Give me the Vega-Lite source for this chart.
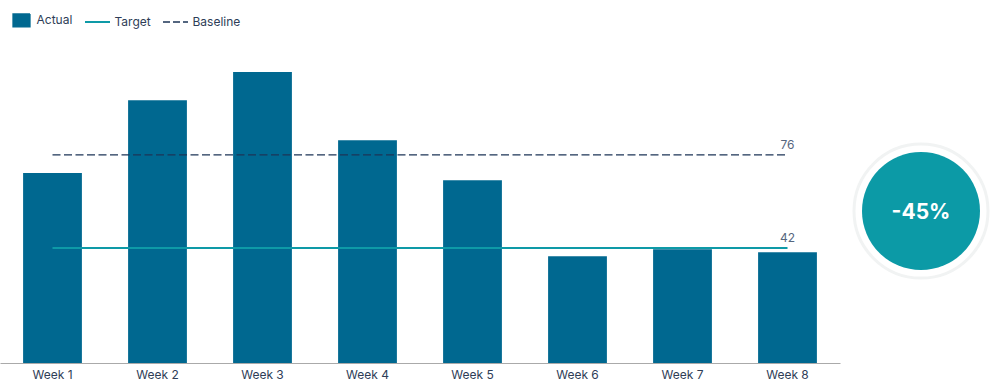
{
  "$schema": "https://vega.github.io/schema/vega-lite/v6.json",
  "padding": {"left": 0, "top": 14, "right": 0, "bottom": 5},
  "spacing": 0,
  "background": "#ffffff",
  "config": {
    "view": {"stroke": null},
    "font": "Inter",
    "axis": {"labelFont": "Inter"},
    "legend": {"labelFont": "Inter"}
  },
  "datasets": {
    "weeks": [
      {"week": "Week 1", "actual": 69.4, "series": "Actual"},
      {"week": "Week 2", "actual": 96.0, "series": "Actual"},
      {"week": "Week 3", "actual": 106.3, "series": "Actual"},
      {"week": "Week 4", "actual": 81.4, "series": "Actual"},
      {"week": "Week 5", "actual": 66.8, "series": "Actual"},
      {"week": "Week 6", "actual": 39.0, "series": "Actual"},
      {"week": "Week 7", "actual": 41.6, "series": "Actual"},
      {"week": "Week 8", "actual": 40.5, "series": "Actual"}
    ],
    "refs": [
      {"series": "Target", "value": 42, "start": "Week 1", "end": "Week 8"},
      {"series": "Baseline", "value": 76, "start": "Week 1", "end": "Week 8"}
    ],
    "badge": [
      {"x": 0.5, "y": 55.5, "label": "-45%"}
    ]
  },
  "hconcat": [
    {
      "width": 840,
      "height": 323,
      "layer": [
        {
          "data": {"name": "weeks"},
          "mark": {"type": "bar"},
          "encoding": {
            "x": {
              "field": "week",
              "type": "nominal",
              "sort": null,
              "scale": {
                "domain": ["Week 1", "Week 2", "Week 3", "Week 4", "Week 5", "Week 6", "Week 7", "Week 8"],
                "paddingInner": 0.44,
                "paddingOuter": 0.22
              },
              "axis": {
                "title": null,
                "labelAngle": 0,
                "ticks": false,
                "labelPadding": 6,
                "labelFontSize": 12,
                "labelColor": "#2e3d57",
                "domainColor": "#aaaaaa",
                "domainWidth": 1,
                "grid": false
              }
            },
            "y": {
              "field": "actual",
              "type": "quantitative",
              "scale": {"domain": [0, 118], "nice": false, "zero": true},
              "axis": null
            },
            "color": {
              "field": "series",
              "type": "nominal",
              "scale": {
                "domain": ["Actual", "Target", "Baseline"],
                "range": ["#006890", "#0e9aa7", "#1d3557"]
              },
              "legend": {
                "title": null,
                "orient": "none",
                "legendX": 13.5,
                "legendY": -26,
                "direction": "horizontal",
                "labelFontSize": 12,
                "labelColor": "#2e3d57",
                "labelOffset": 11,
                "columnPadding": 8,
                "symbolSize": 625,
                "encode": {
                  "symbols": {
                    "update": {
                      "shape": {"signal": "datum.value === 'Actual' ? 'M-0.765,-0.76L1.235,-0.76L1.235,0.76L-0.765,0.76Z' : 'stroke'"},
                      "size": {"signal": "datum.value === 'Actual' ? 289 : 625"},
                      "fill": {"signal": "datum.value === 'Actual' ? '#006890' : 'transparent'"},
                      "stroke": {"signal": "datum.value === 'Actual' ? 'transparent' : (datum.value === 'Target' ? '#0e9aa7' : '#1d3557')"},
                      "strokeDash": {"signal": "datum.value === 'Baseline' ? [7, 3] : [1, 0]"},
                      "strokeWidth": {"signal": "datum.value === 'Target' ? 2 : 1.3"},
                      "opacity": {"value": 1}
                    }
                  }
                }
              }
            }
          }
        },
        {
          "data": {"name": "refs"},
          "transform": [{"filter": "datum.series === 'Baseline'"}],
          "mark": {"type": "rule", "strokeWidth": 1.3, "strokeDash": [8, 3.5]},
          "encoding": {
            "x": {"field": "start", "type": "nominal"},
            "x2": {"field": "end"},
            "y": {"field": "value", "type": "quantitative"},
            "color": {"field": "series", "type": "nominal"}
          }
        },
        {
          "data": {"name": "refs"},
          "transform": [{"filter": "datum.series === 'Target'"}],
          "mark": {"type": "rule", "strokeWidth": 2},
          "encoding": {
            "x": {"field": "start", "type": "nominal"},
            "x2": {"field": "end"},
            "y": {"field": "value", "type": "quantitative"},
            "color": {"field": "series", "type": "nominal"}
          }
        },
        {
          "data": {"name": "refs"},
          "mark": {"type": "text", "baseline": "bottom", "dy": -3, "fontSize": 12, "color": "#56667e", "font": "Inter"},
          "encoding": {
            "x": {"field": "end", "type": "nominal"},
            "y": {"field": "value", "type": "quantitative"},
            "text": {"field": "value", "type": "quantitative"}
          }
        }
      ]
    },
    {
      "width": 162,
      "height": 323,
      "data": {"name": "badge"},
      "encoding": {
        "x": {"field": "x", "type": "quantitative", "scale": {"domain": [0, 1]}, "axis": null},
        "y": {"field": "y", "type": "quantitative", "scale": {"domain": [0, 118], "nice": false}, "axis": null}
      },
      "layer": [
        {
          "mark": {"type": "point", "filled": true, "fill": "#ffffff", "stroke": "#f1f3f3", "strokeWidth": 3, "size": 17956, "opacity": 1}
        },
        {
          "mark": {"type": "point", "filled": true, "color": "#0c9aa6", "size": 13924, "opacity": 1, "strokeWidth": 0}
        },
        {
          "mark": {"type": "text", "color": "#ffffff", "fontSize": 21, "fontWeight": "bold", "font": "Inter", "baseline": "middle", "align": "center", "dy": 2},
          "encoding": {"text": {"field": "label"}}
        }
      ]
    }
  ]
}
